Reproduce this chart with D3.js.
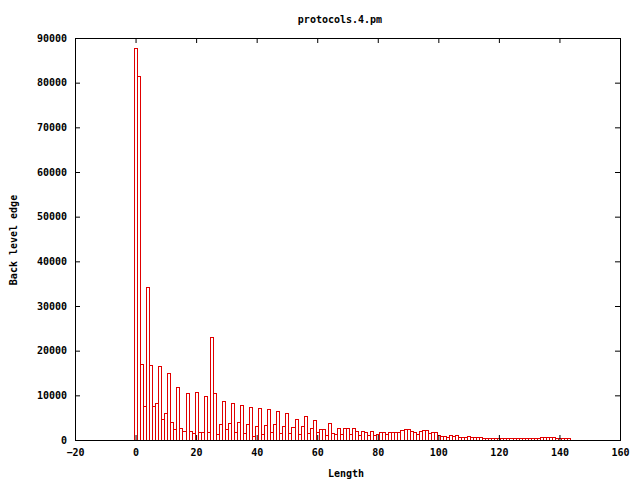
<!DOCTYPE html>
<html>
<head>
<meta charset="utf-8">
<script src="https://cdn.jsdelivr.net/npm/d3@7"></script>
<style>
  html, body { margin: 0; padding: 0; background: #fff; }
  svg text { font-family: "DejaVu Sans Mono", "Liberation Mono", monospace; font-weight: bold; font-size: 10px; fill: #000; }
</style>
</head>
<body>
<svg id="chart" width="640" height="480"></svg>
<script>
const title = "protocols.4.pm";
const xLabel = "Length";
const yLabel = "Back level edge";
const xTicks = [-20, 0, 20, 40, 60, 80, 100, 120, 140, 160];
const yTicks = [0, 10000, 20000, 30000, 40000, 50000, 60000, 70000, 80000, 90000];
const firstLength = 0;
const counts = [
  87700, 81500, 17000, 7600, 34300, 16800, 7600, 8200, 16600, 4600,
  6000, 14900, 3950, 2400, 11800, 2750, 2000, 10450, 2000, 1500,
  10700, 1700, 1700, 9800, 1700, 23150, 10450, 1300, 3550, 8700,
  2500, 3700, 8250, 1750, 3950, 7800, 1500, 3500, 7300, 900,
  3130, 7200, 1270, 3350, 6940, 1860, 3600, 6450, 1500, 3200,
  5970, 1500, 2900, 4680, 1420, 3200, 5330, 1500, 2760, 4480,
  1800, 2460, 2460, 1100, 3730, 1600, 1270, 2600, 1270, 2600,
  2600, 1270, 2600, 2050, 1045, 1940, 1790, 1045, 1940, 1200,
  1270, 1790, 1790, 1270, 1790, 1790, 1720, 1720, 2300, 2460,
  2460, 2015, 1870, 1400, 2090, 2240, 2160, 1640, 1720, 1720,
  1200, 900, 820, 750, 1045, 895, 1045, 670, 670, 670,
  820, 750, 600, 670, 600, 520, 450, 400, 400, 520,
  520, 400, 520, 520, 450, 380, 380, 380, 380, 380,
  520, 520, 520, 520, 600, 700, 700, 700, 670, 520,
  400, 370, 370, 370
];

const svg = d3.select("#chart");
const M = { left: 75, right: 620, top: 38, bottom: 440 };
const x = d3.scaleLinear().domain([-20, 160]).range([M.left, M.right]);
const y = d3.scaleLinear().domain([0, 90000]).range([M.bottom, M.top]);
const red = "#e00000";

// bars
const data = counts.map((v, i) => ({ len: firstLength + i, v }));
svg.append("g").selectAll("rect").data(data).join("rect")
  .attr("x", d => Math.round(x(d.len - 0.5)) + 0.5)
  .attr("width", d => Math.max(0, Math.round(x(d.len + 0.5)) - Math.round(x(d.len - 0.5))))
  .attr("y", d => Math.round(y(d.v)) + 0.5)
  .attr("height", d => Math.max(0, Math.round(y(0)) - Math.round(y(d.v))))
  .attr("fill", "none")
  .attr("stroke", red)
  .attr("stroke-width", 1);

// axes with mirrored inward ticks
const tl = 5;
const axB = d3.axisBottom(x).tickValues(xTicks).tickSizeInner(-tl).tickSizeOuter(0).tickPadding(9).tickFormat(d3.format("d"));
const axT = d3.axisTop(x).tickValues(xTicks).tickSizeInner(-tl).tickSizeOuter(0).tickFormat("");
const axL = d3.axisLeft(y).tickValues(yTicks).tickSizeInner(-tl).tickSizeOuter(0).tickPadding(8).tickFormat(d3.format("d"));
const axR = d3.axisRight(y).tickValues(yTicks).tickSizeInner(-tl).tickSizeOuter(0).tickFormat("");

function style(g) {
  g.select(".domain").remove();
  g.selectAll("line").attr("stroke", "#000");
  g.selectAll("text").attr("font-family", null).attr("font-size", null);
}
svg.append("g").attr("transform", `translate(0,${M.bottom})`).call(axB).call(style);
svg.append("g").attr("transform", `translate(0,${M.top})`).call(axT).call(style);
svg.append("g").attr("transform", `translate(${M.left},0)`).call(axL).call(style);
svg.append("g").attr("transform", `translate(${M.right},0)`).call(axR).call(style);

// border
svg.append("rect")
  .attr("x", M.left + 0.5).attr("y", M.top + 0.5)
  .attr("width", M.right - M.left).attr("height", M.bottom - M.top)
  .attr("fill", "none").attr("stroke", "#000").attr("stroke-width", 1);

// titles
svg.append("text").attr("x", 340).attr("y", 23).attr("text-anchor", "middle").text(title);
svg.append("text").attr("x", 346).attr("y", 477).attr("text-anchor", "middle").text(xLabel);
svg.append("text").attr("transform", "translate(17,240) rotate(-90)").attr("text-anchor", "middle").text(yLabel);
</script>
</body>
</html>
